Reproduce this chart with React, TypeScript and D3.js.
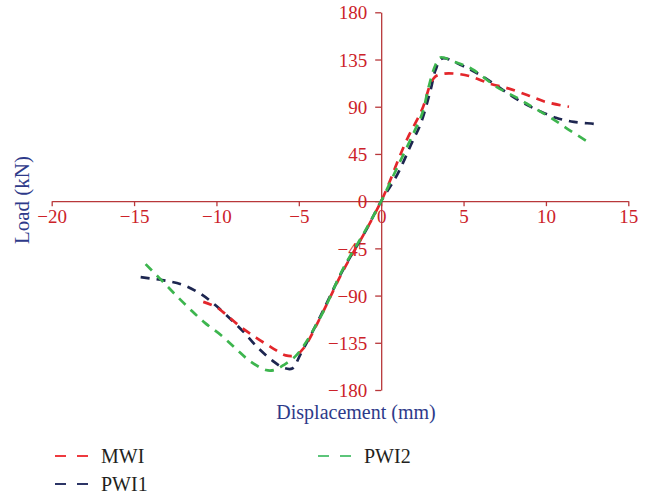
import React, { useEffect, useRef } from "react";
import * as d3 from "d3";

// displacement (mm) / load (kN)
const mwiDisp = [-10.8, -10, -9.5, -8.6, -7.6, -6.6, -5.8, -5.2, -4.7, -3.7, -2.3, -1, 0, 0.5, 1, 1.6, 2.5, 3, 3.3, 3.8, 4.5, 5.4, 6.6, 7.7, 8.9, 10, 11.4];
const mwiLoad = [-96, -101, -107, -119, -130, -140, -147, -147, -140, -111, -66, -30, 0, 18, 38, 60, 88, 112, 119, 121.5, 121.5, 119, 112, 107.5, 101, 94.5, 90];

const pwi1Disp = [-14.6, -13.2, -12.1, -11, -10, -9.1, -8.3, -7.5, -6.6, -5.9, -5.4, -4.9, -3.7, -2.3, -1, 0, 1, 1.9, 2.4, 3, 3.3, 3.7, 4.8, 5.4, 6.3, 8.25, 9.4, 10.6, 11.7, 12.9, 13.2];
const pwi1Load = [-72.5, -75.5, -79.5, -88, -100, -113, -125.5, -139.5, -152, -159, -159.5, -146, -110, -65, -30, 0, 26, 57, 74, 106, 125, 136, 130, 125.5, 117.5, 97, 87.5, 79.5, 75.5, 73.7, 73];

const pwi2Disp = [-14.3, -13.3, -12.5, -11.6, -10.7, -9.7, -8.8, -8, -7, -6.5, -5.9, -5.1, -3.7, -2.3, -1, 0, 1, 2, 2.5, 2.9, 3.3, 3.6, 4.4, 5.5, 7, 8.3, 9.2, 10.3, 11.3, 12.5];
const pwi2Load = [-60, -76, -89, -103, -116, -128, -141, -152, -161, -161, -156, -146, -111, -64, -29, 0, 33, 66, 84, 110, 130, 137, 133, 126, 109, 98, 89.5, 79.5, 69, 57];

const seriesNames = ["MWI", "PWI1", "PWI2"];
const seriesColors = ["#e3262b", "#1d2650", "#3db54e"];
const legendColors = ["#ee3a3f", "#2c3566", "#5cc57a"];

const xTicks = [-20, -15, -10, -5, 0, 5, 10, 15];
const yTicks = [-180, -135, -90, -45, 0, 45, 90, 135, 180];

const W = 652, H = 496;
const FONT = "'Liberation Serif', 'Times New Roman', serif";

export default function App() {
  const ref = useRef<SVGSVGElement>(null);

  useEffect(() => {
    const svg = d3.select(ref.current);
    svg.selectAll("*").remove();

    const x = d3.scaleLinear().domain([-20, 15]).range([51.7, 628.3]);
    const y = d3.scaleLinear().domain([-180, 180]).range([390, 12.3]);

    const axisColor = "#b8373a";
    const labelColor = "#cc2229";
    const fmt = (d: d3.NumberValue) => d3.format("")(d as number).replace("-", "\u2212");

    // x axis through y = 0
    const gx = svg.append("g").attr("transform", `translate(0,${y(0)})`);
    gx.call(d3.axisBottom(x).tickValues(xTicks).tickSize(5).tickSizeOuter(0).tickFormat(fmt));
    gx.select(".domain").attr("stroke", axisColor).attr("stroke-width", 1.3);
    gx.selectAll(".tick line").attr("stroke", axisColor).attr("stroke-width", 1.3);
    gx.selectAll(".tick text")
      .attr("fill", labelColor)
      .attr("font-family", FONT)
      .attr("font-size", 19)
      .attr("y", 8)
      .attr("dy", "0.71em");

    // y axis through x = 0
    const gy = svg.append("g").attr("transform", `translate(${x(0)},0)`);
    gy.call(d3.axisLeft(y).tickValues(yTicks).tickSize(6).tickSizeOuter(0).tickFormat(fmt));
    gy.select(".domain").attr("stroke", axisColor).attr("stroke-width", 1.3);
    gy.selectAll(".tick line").attr("stroke", axisColor).attr("stroke-width", 1.3);
    gy.selectAll(".tick text")
      .attr("fill", labelColor)
      .attr("font-family", FONT)
      .attr("font-size", 19)
      .attr("x", -14)
      .attr("dy", "0.35em");

    const line = d3.line<[number, number]>()
      .x(d => x(d[0]))
      .y(d => y(d[1]))
      .curve(d3.curveCatmullRom.alpha(0.5));

    const data: [number, number][][] = [
      mwiDisp.map((d, i) => [d, mwiLoad[i]]),
      pwi1Disp.map((d, i) => [d, pwi1Load[i]]),
      pwi2Disp.map((d, i) => [d, pwi2Load[i]]),
    ];

    // navy first, then red, green on top
    [1, 0, 2].forEach(i => {
      svg.append("path")
        .datum(data[i])
        .attr("d", line)
        .attr("fill", "none")
        .attr("stroke", seriesColors[i])
        .attr("stroke-width", 2.7)
        .attr("stroke-dasharray", "9,7");
    });

    // axis titles
    svg.append("text")
      .attr("x", 356).attr("y", 419)
      .attr("text-anchor", "middle")
      .attr("fill", "#2e3a8a")
      .attr("font-family", FONT)
      .attr("font-size", 20)
      .text("Displacement (mm)");

    svg.append("text")
      .attr("transform", "translate(29,200) rotate(-90)")
      .attr("text-anchor", "middle")
      .attr("fill", "#2e3a8a")
      .attr("font-family", FONT)
      .attr("font-size", 21)
      .text("Load (kN)");

    // legend
    const legendPos = [[55, 456], [55, 484], [318, 456]];
    seriesNames.forEach((name, i) => {
      const [lx, ly] = legendPos[i];
      const g = svg.append("g").attr("transform", `translate(${lx},${ly})`);
      g.append("line")
        .attr("x1", 0).attr("x2", 35).attr("y1", 0).attr("y2", 0)
        .attr("stroke", legendColors[i])
        .attr("stroke-width", 2)
        .attr("stroke-dasharray", "11,11");
      g.append("text")
        .attr("x", 46).attr("y", 7)
        .attr("fill", "#231f20")
        .attr("font-family", FONT)
        .attr("font-size", 20)
        .text(name);
    });
  }, []);

  return (
    <svg
      ref={ref}
      width={W}
      height={H}
      style={{ position: "absolute", left: 0, top: 0, background: "#fff" }}
    />
  );
}
